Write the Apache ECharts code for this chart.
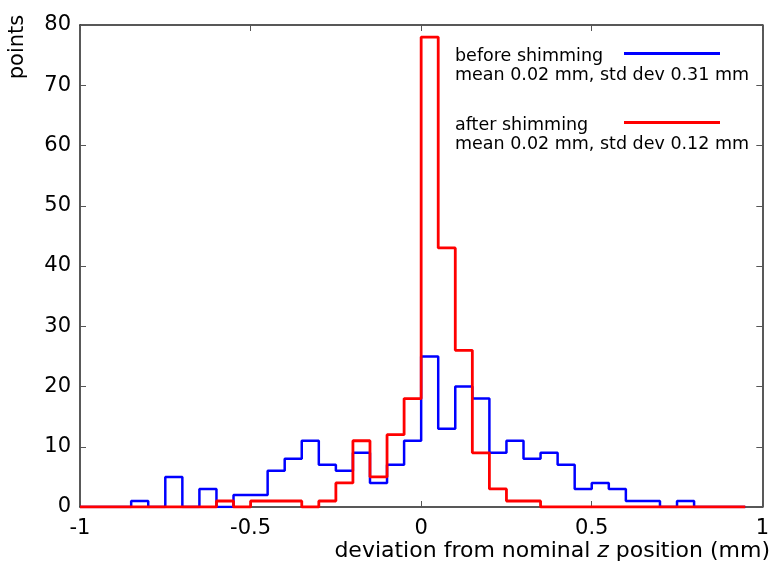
<!DOCTYPE html>
<html><head><meta charset="utf-8">
<script src="https://cdn.jsdelivr.net/npm/echarts@6/dist/echarts.min.js"></script>
<style>html,body{margin:0;padding:0;background:#fff}#c{width:772px;height:567px}</style>
</head><body><div id="c"></div>
<script>
// bin left edges: -1, -0.95, ..., 0.95 (width 0.05)
const binStart = -1;
const binWidth = 0.05;
const beforeCounts = [0,0,0,1,0,5,0,3,0,2,2,6,8,11,7,6,9,4,7,11,25,13,20,18,9,11,8,9,7,3,4,3,1,1,0,1,0,0,0,0];
const afterCounts  = [0,0,0,0,0,0,0,0,1,0,1,1,1,0,1,4,11,5,12,18,78,43,26,9,3,1,1,0,0,0,0,0,0,0,0,0,0,0,0,0];
const xTicks = [-1, -0.5, 0, 0.5, 1];
const yTicks = [0,10,20,30,40,50,60,70,80];
const legendBefore = ["before shimming", "mean 0.02 mm, std dev 0.31 mm"];
const legendAfter = ["after shimming", "mean 0.02 mm, std dev 0.12 mm"];

function toPts(arr){ return arr.map((v,i)=>[+(binStart+i*binWidth).toFixed(2), v]); }

const FONT = '"DejaVu Sans", "Liberation Sans", sans-serif';
const chart = echarts.init(document.getElementById('c'), null, {renderer:'canvas'});
const axCommon = {
  type:'value', splitLine:{show:false},
  axisLine:{show:true, onZero:false, lineStyle:{color:'#222', width:1.5}},
  axisTick:{show:true, inside:true, length:6, lineStyle:{color:'#555', width:1}},
};
chart.setOption({
  animation:false,
  textStyle:{fontFamily:FONT},
  grid:{left:80, right:3, top:25, bottom:60},
  xAxis:[
    Object.assign({}, axCommon, {position:'bottom', min:xTicks[0], max:xTicks[xTicks.length-1], interval:0.5,
      axisLabel:{show:true, color:'#000', fontSize:21, fontFamily:FONT, margin:11, formatter:v=>String(v)}}),
    Object.assign({}, axCommon, {position:'top', min:-1, max:1, interval:0.5, axisLabel:{show:false}})
  ],
  yAxis:[
    Object.assign({}, axCommon, {position:'left', min:yTicks[0], max:yTicks[yTicks.length-1], interval:10,
      axisLabel:{show:true, color:'#000', fontSize:21, fontFamily:FONT, margin:9}}),
    Object.assign({}, axCommon, {position:'right', min:0, max:80, interval:10, axisLabel:{show:false}})
  ],
  series:[
    {type:'line', name:'before', step:'end', data:toPts(beforeCounts), symbol:'none',
      lineStyle:{color:'#0000ff', width:2.5}, z:3},
    {type:'line', name:'after', step:'end', data:toPts(afterCounts), symbol:'none',
      lineStyle:{color:'#ff0000', width:2.8}, z:4}
  ],
  graphic:[
    {type:'text', left:455, top:47, style:{text:legendBefore[0]+'\n'+legendBefore[1], fill:'#000', font:'17.5px '+FONT, lineHeight:19}},
    {type:'line', shape:{x1:624,y1:53.5,x2:720,y2:53.5}, style:{stroke:'#0000ff', lineWidth:3}},
    {type:'text', left:455, top:116, style:{text:legendAfter[0]+'\n'+legendAfter[1], fill:'#000', font:'17.5px '+FONT, lineHeight:19}},
    {type:'line', shape:{x1:624,y1:122.5,x2:720,y2:122.5}, style:{stroke:'#ff0000', lineWidth:3}},
    {type:'text', x:18, y:47, rotation:Math.PI/2, style:{text:'points', fill:'#000', font:'21px '+FONT, align:'center', verticalAlign:'middle'}},
    {type:'text', right:2, top:540, style:{rich:{i:{fontStyle:'italic', fontSize:22, fontFamily:FONT, fill:'#000'}}, text:'deviation from nominal {i|z} position (mm)', fill:'#000', font:'22px '+FONT}}
  ]
});
</script></body></html>
